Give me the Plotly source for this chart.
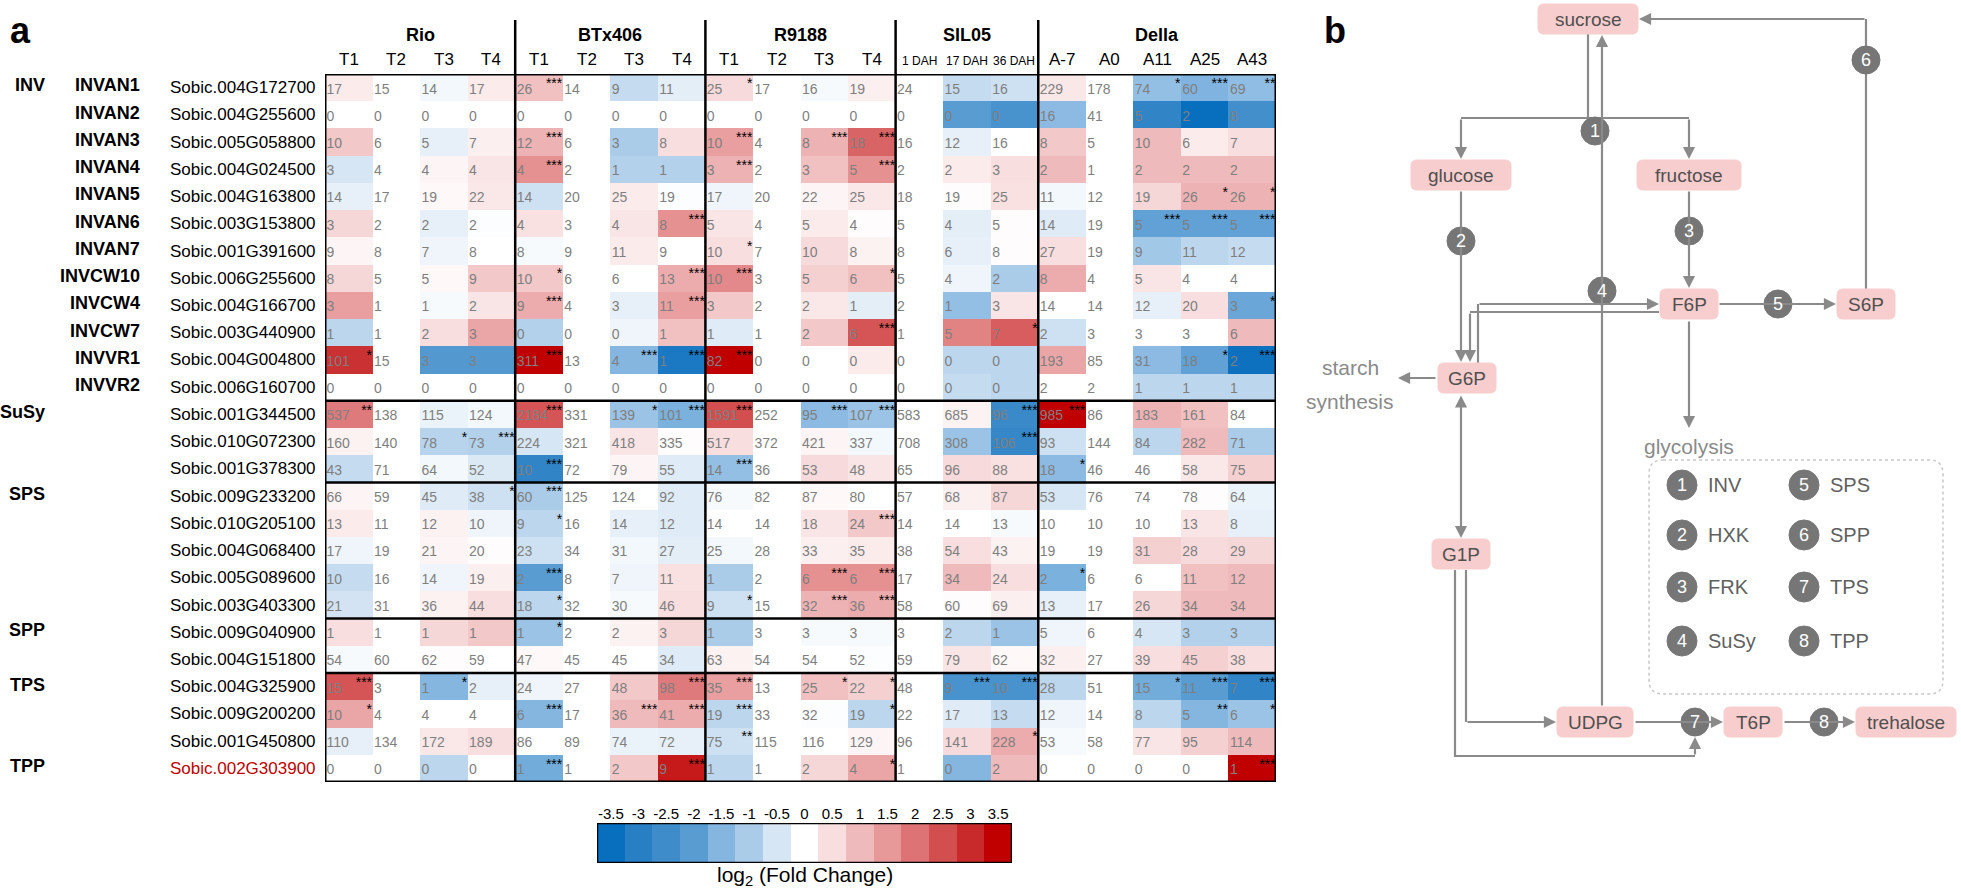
import plotly.graph_objects as go

W, H = 1961, 890

# ---------------- data ----------------
groups = ["Rio", "BTx406", "R9188", "SIL05", "Della"]
group_sizes = [4, 4, 4, 3, 5]
col_labels = ["T1", "T2", "T3", "T4", "T1", "T2", "T3", "T4", "T1", "T2", "T3", "T4",
              "1 DAH", "17 DAH", "36 DAH", "A-7", "A0", "A11", "A25", "A43"]
gene_ids = ["Sobic.004G172700", "Sobic.004G255600", "Sobic.005G058800", "Sobic.004G024500",
            "Sobic.004G163800", "Sobic.003G153800", "Sobic.001G391600", "Sobic.006G255600",
            "Sobic.004G166700", "Sobic.003G440900", "Sobic.004G004800", "Sobic.006G160700",
            "Sobic.001G344500", "Sobic.010G072300", "Sobic.001G378300", "Sobic.009G233200",
            "Sobic.010G205100", "Sobic.004G068400", "Sobic.005G089600", "Sobic.003G403300",
            "Sobic.009G040900", "Sobic.004G151800", "Sobic.004G325900", "Sobic.009G200200",
            "Sobic.001G450800", "Sobic.002G303900"]
gene_names = ["INVAN1", "INVAN2", "INVAN3", "INVAN4", "INVAN5", "INVAN6", "INVAN7",
              "INVCW10", "INVCW4", "INVCW7", "INVVR1", "INVVR2"]
family_names = ["INV", "SuSy", "SPS", "SPP", "TPS", "TPP"]
family_rows = [0, 12, 15, 20, 22, 25]
highlight_gene = "Sobic.002G303900"

values = [
    [17, 15, 14, 17, 26, 14, 9, 11, 25, 17, 16, 19, 24, 15, 16, 229, 178, 74, 60, 69],
    [0, 0, 0, 0, 0, 0, 0, 0, 0, 0, 0, 0, 0, 0, 0, 16, 41, 5, 2, 8],
    [10, 6, 5, 7, 12, 6, 3, 8, 10, 4, 8, 18, 16, 12, 16, 8, 5, 10, 6, 7],
    [3, 4, 4, 4, 4, 2, 1, 1, 3, 2, 3, 5, 2, 2, 3, 2, 1, 2, 2, 2],
    [14, 17, 19, 22, 14, 20, 25, 19, 17, 20, 22, 25, 18, 19, 25, 11, 12, 19, 26, 26],
    [3, 2, 2, 2, 4, 3, 4, 8, 5, 4, 5, 4, 5, 4, 5, 14, 19, 5, 5, 5],
    [9, 8, 7, 8, 8, 9, 11, 9, 10, 7, 10, 8, 8, 6, 8, 27, 19, 9, 11, 12],
    [8, 5, 5, 9, 10, 6, 6, 13, 10, 3, 5, 6, 5, 4, 2, 8, 4, 5, 4, 4],
    [3, 1, 1, 2, 9, 4, 3, 11, 3, 2, 2, 1, 2, 1, 3, 14, 14, 12, 20, 3],
    [1, 1, 2, 3, 0, 0, 0, 1, 1, 1, 2, 6, 1, 5, 7, 2, 3, 3, 3, 6],
    [101, 15, 3, 3, 311, 13, 4, 1, 82, 0, 0, 0, 0, 0, 0, 193, 85, 31, 18, 2],
    [0, 0, 0, 0, 0, 0, 0, 0, 0, 0, 0, 0, 0, 0, 0, 2, 2, 1, 1, 1],
    [537, 138, 115, 124, 2184, 331, 139, 101, 1591, 252, 95, 107, 583, 685, 96, 985, 86, 183, 161, 84],
    [160, 140, 78, 73, 224, 321, 418, 335, 517, 372, 421, 337, 708, 308, 106, 93, 144, 84, 282, 71],
    [43, 71, 64, 52, 10, 72, 79, 55, 14, 36, 53, 48, 65, 96, 88, 18, 46, 46, 58, 75],
    [66, 59, 45, 38, 60, 125, 124, 92, 76, 82, 87, 80, 57, 68, 87, 53, 76, 74, 78, 64],
    [13, 11, 12, 10, 9, 16, 14, 12, 14, 14, 18, 24, 14, 14, 13, 10, 10, 10, 13, 8],
    [17, 19, 21, 20, 23, 34, 31, 27, 25, 28, 33, 35, 38, 54, 43, 19, 19, 31, 28, 29],
    [10, 16, 14, 19, 2, 8, 7, 11, 1, 2, 6, 6, 17, 34, 24, 2, 6, 6, 11, 12],
    [21, 31, 36, 44, 18, 32, 30, 46, 9, 15, 32, 36, 58, 60, 69, 13, 17, 26, 34, 34],
    [1, 1, 1, 1, 1, 2, 2, 3, 1, 3, 3, 3, 3, 2, 1, 5, 6, 4, 3, 3],
    [54, 60, 62, 59, 47, 45, 45, 34, 63, 54, 54, 52, 59, 79, 62, 32, 27, 39, 45, 38],
    [15, 3, 1, 2, 24, 27, 48, 98, 35, 13, 25, 22, 48, 9, 10, 28, 51, 15, 11, 7],
    [10, 4, 4, 4, 6, 17, 36, 41, 19, 33, 32, 19, 22, 17, 13, 12, 14, 8, 5, 6],
    [110, 134, 172, 189, 86, 89, 74, 72, 75, 115, 116, 129, 96, 141, 228, 53, 58, 77, 95, 114],
    [0, 0, 0, 0, 1, 1, 2, 9, 1, 1, 2, 4, 1, 0, 2, 0, 0, 0, 0, 1],
]

log2fc = [
    [0.3, 0, -0.15, 0.3, 0.9, 0, -0.7, -0.35, 0.55, 0, -0.1, 0.25, 0, -0.7, -0.6, 0.35, 0, -1.3, -1.55, -1.35],
    [0, 0, 0, 0, 0, 0, 0, 0, 0, 0, 0, 0, 0, -2.0, -2.3, -1.4, 0, -2.8, -3.5, -2.4],
    [0.8, 0, -0.3, 0.25, 1.1, 0, -1.0, 0.5, 1.4, 0, 1.1, 2.2, 0, -0.3, 0, 0.8, 0, 1.0, 0.3, 0.5],
    [-0.5, 0, 0.15, 0.4, 1.6, 0, -0.9, -0.9, 1.1, 0, 0.9, 1.6, 0, 0.3, 0.5, 1.0, 0, 1.0, 1.0, 1.0],
    [-0.3, 0, 0.1, 0.35, -0.6, 0, 0.3, -0.05, -0.2, 0, 0.15, 0.35, 0, 0.05, 0.45, -0.15, 0, 0.6, 1.1, 1.1],
    [0.6, 0, -0.3, -0.05, 0.45, 0, 0.4, 1.6, 0.4, 0, 0.3, 0.05, 0, -0.35, 0.05, -0.4, 0, -1.9, -1.9, -1.9],
    [0.15, 0, -0.2, 0, -0.1, 0, 0.3, 0, 0.5, 0, 0.55, 0.2, 0, -0.3, 0.05, 0.5, 0, -1.1, -0.8, -0.7],
    [0.6, 0, 0.1, 0.8, 0.8, 0, 0, 1.2, 1.7, 0, 0.7, 0.9, 0, -0.2, -1.0, 1.2, 0, 0.4, 0, 0],
    [1.4, 0, -0.1, 0.4, 1.2, 0, -0.3, 1.4, 0.8, 0, 0.35, -0.35, 0, -1.3, 0.4, 0, 0, -0.3, 0.5, -1.8],
    [-0.8, 0, 0.5, 1.3, -0.9, 0, -0.2, 0.9, -0.4, 0, 0.8, 2.4, 0, 1.8, 2.3, -0.6, 0, 0, 0, 1.0],
    [2.9, 0, -2.1, -2.1, 3.5, 0, -1.5, -3.2, 3.5, 0, 0, 0.3, 0, -0.8, -0.8, 1.3, 0, -1.4, -1.9, -3.4],
    [0, 0, 0, 0, 0, 0, 0, 0, 0, 0, 0, 0, 0, -0.7, -0.8, 0, 0, -0.8, -0.8, -0.8],
    [1.9, 0, -0.25, -0.15, 2.4, 0, -1.2, -1.6, 2.5, 0, -1.4, -1.2, 0, 0.2, -2.6, 3.5, 0, 1.1, 0.9, 0],
    [0.2, 0, -0.85, -0.9, -0.5, 0, 0.4, 0.05, 0.5, 0, 0.15, -0.15, 0, -1.2, -2.7, -0.6, 0, -0.8, 1.0, -1.0],
    [-0.7, 0, -0.15, -0.45, -2.8, 0, 0.15, -0.4, -1.3, 0, 0.55, 0.4, 0, 0.55, 0.45, -1.4, 0, 0, 0.35, 0.7],
    [0.15, 0, -0.4, -0.6, -1.0, 0, 0, -0.4, -0.1, 0, 0.1, 0, 0, 0.25, 0.6, -0.5, 0, 0, 0.05, -0.25],
    [0.3, 0, 0.2, -0.2, -0.8, 0, -0.3, -0.4, 0, 0, 0.4, 0.8, 0, 0, -0.1, 0, 0, 0, 0.4, -0.3],
    [-0.2, 0, 0.15, 0.05, -0.6, 0, -0.15, -0.35, -0.15, 0, 0.25, 0.3, 0, 0.5, 0.2, 0, 0, 0.7, 0.55, 0.6],
    [-0.7, 0, -0.2, 0.25, -2.0, 0, -0.2, 0.45, -1.0, 0, 1.6, 1.6, 0, 1.0, 0.5, -1.6, 0, 0, 0.9, 1.0],
    [-0.55, 0, 0.2, 0.5, -0.8, 0, -0.1, 0.5, -0.6, 0, 1.1, 1.2, 0, 0.05, 0.25, -0.3, 0, 0.6, 1.0, 1.0],
    [0.5, 0, 0.6, 0.8, -1.2, 0, 0.2, 0.6, -1.0, 0, -0.1, -0.1, 0, -0.8, -1.2, -0.2, 0, -0.5, -0.9, -0.9],
    [-0.1, 0, 0.05, 0, 0.1, 0, 0, -0.4, 0.2, 0, 0, -0.05, 0, 0.4, 0.1, 0.25, 0, 0.5, 0.7, 0.5],
    [2.4, 0, -1.5, -0.3, -0.2, 0, 0.8, 1.9, 1.4, 0, 0.9, 0.7, 0, -2.3, -2.3, -0.8, 0, -1.7, -2.0, -2.8],
    [1.3, 0, 0, 0, -1.5, 0, 1.0, 1.2, -0.8, 0, -0.05, -0.8, 0, -0.4, -0.7, -0.2, 0, -0.8, -1.5, -1.2],
    [-0.3, 0, 0.35, 0.5, 0, 0, -0.25, -0.3, -0.6, 0, 0, 0.15, 0, 0.55, 1.2, -0.1, 0, 0.4, 0.7, 1.0],
    [0, 0, -0.8, 0, -1.7, 0, 0.8, 3.2, -0.8, 0, 0.6, 1.3, 0, -1.5, 1.0, 0, 0, 0, 0, 3.5],
]

# (row, column, significance)
stars = [
    (0, 4, "***"), (0, 8, "*"), (0, 17, "*"), (0, 18, "***"), (0, 19, "**"),
    (2, 4, "***"), (2, 8, "***"), (2, 10, "***"), (2, 11, "***"),
    (3, 4, "***"), (3, 8, "***"), (3, 11, "***"),
    (4, 18, "*"), (4, 19, "*"),
    (5, 7, "***"), (5, 17, "***"), (5, 18, "***"), (5, 19, "***"),
    (6, 8, "*"),
    (7, 4, "*"), (7, 7, "***"), (7, 8, "***"), (7, 11, "*"),
    (8, 4, "***"), (8, 7, "***"), (8, 19, "*"),
    (9, 11, "***"), (9, 14, "*"),
    (10, 0, "*"), (10, 4, "***"), (10, 6, "***"), (10, 7, "***"), (10, 8, "***"), (10, 18, "*"), (10, 19, "***"),
    (12, 0, "**"), (12, 4, "***"), (12, 6, "*"), (12, 7, "***"), (12, 8, "***"), (12, 10, "***"),
    (12, 11, "***"), (12, 14, "***"), (12, 15, "***"),
    (13, 2, "*"), (13, 3, "***"), (13, 14, "***"),
    (14, 4, "***"), (14, 8, "***"), (14, 15, "*"),
    (15, 3, "*"), (15, 4, "***"),
    (16, 4, "*"), (16, 11, "***"),
    (18, 4, "***"), (18, 10, "***"), (18, 11, "***"), (18, 15, "*"),
    (19, 4, "*"), (19, 8, "*"), (19, 10, "***"), (19, 11, "***"),
    (20, 4, "*"),
    (22, 0, "***"), (22, 2, "*"), (22, 7, "***"), (22, 8, "***"), (22, 10, "*"), (22, 11, "*"),
    (22, 13, "***"), (22, 14, "***"), (22, 17, "*"), (22, 18, "***"), (22, 19, "***"),
    (23, 0, "*"), (23, 4, "***"), (23, 6, "***"), (23, 7, "***"), (23, 8, "***"), (23, 11, "*"),
    (23, 18, "**"), (23, 19, "*"),
    (24, 8, "**"), (24, 14, "*"),
    (25, 4, "***"), (25, 7, "***"), (25, 11, "*"), (25, 19, "***"),
]
row_group_breaks = [11.5, 14.5, 19.5, 21.5]

cbar_levels = [-3.5, -3, -2.5, -2, -1.5, -1, -0.5, 0, 0.5, 1, 1.5, 2, 2.5, 3, 3.5]
cbar_colors = ["#086EBE", "#287FC4", "#3E8CCA", "#589CD2", "#84B6E0", "#AACCE9", "#D7E6F4", "#FFFFFF",
               "#F8DEDE", "#EFBABB", "#E79899", "#DD7375", "#D34E4F", "#C82A2B", "#C00000"]
legend_enzymes = ["INV", "HXK", "FRK", "SuSy", "SPS", "SPP", "TPS", "TPP"]

# ---------------- geometry ----------------
HX0, HX1, HY0, HY1 = 325, 1276, 74, 782
NR, NC = len(values), len(col_labels)
FONT = "Liberation Sans, Arial, sans-serif"
GRAY_TXT = "#7F7F7F"

zmin, zmax = cbar_levels[0], cbar_levels[-1]
colorscale = [[(v - zmin) / (zmax - zmin), c] for v, c in zip(cbar_levels, cbar_colors)]

fig = go.Figure()

fig.add_trace(go.Heatmap(z=log2fc, x=list(range(NC)), y=list(range(NR)), colorscale=colorscale,
                         zmin=zmin, zmax=zmax, showscale=False, hoverinfo="skip",
                         xaxis="x", yaxis="y"))

tx, ty, tt = [], [], []
for r in range(NR):
    for c in range(NC):
        tx.append(c - 0.47)
        ty.append(r + 0.09)
        tt.append(str(values[r][c]))
fig.add_trace(go.Scatter(x=tx, y=ty, text=tt, mode="text", textposition="middle right",
                         textfont=dict(family=FONT, size=14, color=GRAY_TXT),
                         hoverinfo="skip", cliponaxis=False, xaxis="x", yaxis="y"))
fig.add_trace(go.Scatter(x=[c + 0.49 for r, c, s in stars], y=[r - 0.12 for r, c, s in stars],
                         text=[s for r, c, s in stars], mode="text", textposition="middle left",
                         textfont=dict(family=FONT, size=14, color="black"),
                         hoverinfo="skip", cliponaxis=False, xaxis="x", yaxis="y"))

# colorbar as heatmap
fig.add_trace(go.Heatmap(z=[cbar_levels], x=list(range(len(cbar_levels))), y=[0],
                         colorscale=colorscale, zmin=zmin, zmax=zmax, showscale=False,
                         hoverinfo="skip", xaxis="x3", yaxis="y3"))
# pixel overlay axis
fig.add_trace(go.Scatter(x=[0], y=[0], mode="markers", marker=dict(opacity=0), hoverinfo="skip",
                         xaxis="x2", yaxis="y2"))

CB = (597, 1012, 823, 863)
ax_off = dict(visible=False, showgrid=False, zeroline=False)
fig.update_layout(
    width=W, height=H, margin=dict(l=0, r=0, t=0, b=0), autosize=False,
    paper_bgcolor="white", plot_bgcolor="rgba(0,0,0,0)", showlegend=False,
    xaxis=dict(domain=[HX0 / W, HX1 / W], range=[-0.5, NC - 0.5], **ax_off),
    yaxis=dict(domain=[1 - HY1 / H, 1 - HY0 / H], range=[NR - 0.5, -0.5], **ax_off),
    xaxis2=dict(domain=[0, 1], range=[0, W], anchor="y2", **ax_off),
    yaxis2=dict(domain=[0, 1], range=[H, 0], anchor="x2", **ax_off),
    xaxis3=dict(domain=[CB[0] / W, CB[1] / W], range=[-0.5, 14.5], anchor="y3", side="top",
                tickvals=list(range(15)), ticktext=[f"{v:g}" for v in cbar_levels],
                showgrid=False, zeroline=False, ticks="", showline=False,
                tickfont=dict(family=FONT, size=15, color="black")),
    yaxis3=dict(domain=[1 - CB[3] / H, 1 - CB[2] / H], range=[-0.5, 0.5], anchor="x3", **ax_off),
)

shapes, ann = [], []
# heatmap frame and separators
ann_line = dict(color="black", width=2.5)
shapes.append(dict(type="rect", xref="x", yref="y", x0=-0.5, x1=NC - 0.5, y0=-0.5, y1=NR - 0.5,
                   line=dict(color="black", width=3)))
for yb in row_group_breaks:
    shapes.append(dict(type="line", xref="x", yref="y", x0=-0.5, x1=NC - 0.5, y0=yb, y1=yb, line=ann_line))
start = 0
for gi, (g, n) in enumerate(zip(groups, group_sizes)):
    if gi > 0:
        shapes.append(dict(type="line", xref="x", yref="y2", x0=start - 0.5, x1=start - 0.5,
                           y0=20, y1=HY1, line=ann_line))
    ann.append(dict(xref="x", yref="y2", x=start + (n - 1) / 2, y=35, text=f"<b>{g}</b>",
                    showarrow=False, font=dict(family=FONT, size=18, color="black")))
    start += n
for c, lab in enumerate(col_labels):
    small = "DAH" in lab
    ann.append(dict(xref="x", yref="y2", x=c, y=59 if not small else 61, text=lab, showarrow=False,
                    font=dict(family=FONT, size=12 if small else 17, color="black")))
# row labels
for r, gid in enumerate(gene_ids):
    col = "#C00000" if gid == highlight_gene else "black"
    ann.append(dict(xref="x2", yref="y", x=318, y=r, text=gid, showarrow=False, xanchor="right",
                    font=dict(family=FONT, size=17, color=col)))
for r, gn in enumerate(gene_names):
    ann.append(dict(xref="x2", yref="y", x=142, y=r - 0.08, text=f"<b>{gn}</b>", showarrow=False,
                    xanchor="right", font=dict(family=FONT, size=18, color="black")))
for fn, fr in zip(family_names, family_rows):
    ann.append(dict(xref="x2", yref="y", x=47, y=fr - 0.08, text=f"<b>{fn}</b>", showarrow=False,
                    xanchor="right", font=dict(family=FONT, size=18, color="black")))
# colorbar frame & title
shapes.append(dict(type="rect", xref="x3", yref="y3", x0=-0.5, x1=14.5, y0=-0.5, y1=0.5,
                   line=dict(color="black", width=2.5)))
ann.append(dict(xref="x2", yref="y2", x=(CB[0] + CB[1]) / 2, y=876, text="log<sub>2</sub> (Fold Change)",
                showarrow=False, font=dict(family=FONT, size=21, color="black")))
# panel letters
ann.append(dict(xref="x2", yref="y2", x=8, y=30, text="<b>a</b>", showarrow=False, xanchor="left",
                font=dict(family=FONT, size=36, color="black")))
ann.append(dict(xref="x2", yref="y2", x=1322, y=30, text="<b>b</b>", showarrow=False, xanchor="left",
                font=dict(family=FONT, size=36, color="black")))

# ---------------- panel b: pathway ----------------
LC = "#8A8A8A"
LW = 2.2
PINK = "#F8CDCD"
NODE_TXT = "#505050"


def rrect(cx, cy, w, h, r=6):
    x0, x1, y0, y1 = cx - w / 2, cx + w / 2, cy - h / 2, cy + h / 2
    return (f"M{x0 + r},{y0} L{x1 - r},{y0} Q{x1},{y0} {x1},{y0 + r} L{x1},{y1 - r} "
            f"Q{x1},{y1} {x1 - r},{y1} L{x0 + r},{y1} Q{x0},{y1} {x0},{y1 - r} "
            f"L{x0},{y0 + r} Q{x0},{y0} {x0 + r},{y0} Z")


nodes = {
    "sucrose": (1588, 19, 100, 30), "glucose": (1461, 175, 100, 30), "fructose": (1689, 175, 104, 30),
    "F6P": (1689, 304, 58, 30), "S6P": (1866, 304, 58, 30), "G6P": (1467, 378, 58, 30),
    "G1P": (1461, 554, 58, 30), "UDPG": (1595, 722, 76, 30), "T6P": (1753, 722, 58, 30),
    "trehalose": (1906, 722, 100, 30),
}


def line(pts):
    d = "M" + " L".join(f"{x},{y}" for x, y in pts)
    shapes.append(dict(type="path", xref="x2", yref="y2", path=d, line=dict(color=LC, width=LW)))


def arrow(x0, y0, x1, y1, both=False):
    ann.append(dict(xref="x2", yref="y2", axref="x2", ayref="y2", x=x1, y=y1, ax=x0, ay=y0, text="",
                    showarrow=True, arrowhead=2, arrowsize=1.1, arrowwidth=LW, arrowcolor=LC,
                    arrowside="end+start" if both else "end", startarrowhead=2, startarrowsize=1.1))


# INV
line([(1588, 34), (1588, 118)])
line([(1461, 118), (1689, 118)])
arrow(1461, 118, 1461, 159)
arrow(1689, 118, 1689, 159)
# SuSy: UDPG -> sucrose
arrow(1602, 707, 1602, 35)
# HXK, FRK
arrow(1461, 190, 1461, 362)
arrow(1689, 190, 1689, 288)
# SPS, SPP
arrow(1718, 304, 1836, 304)
line([(1866, 289), (1866, 19)])
arrow(1866, 19, 1639, 19)
# G6P <-> F6P
line([(1478, 363), (1478, 304)])
arrow(1478, 304, 1659, 304)
line([(1659, 312), (1470, 312)])
arrow(1470, 312, 1470, 362)
# G6P <-> G1P
arrow(1461, 394, 1461, 538, both=True)
# starch, glycolysis
arrow(1437, 378, 1398, 378)
arrow(1689, 320, 1689, 428)
# G1P -> UDPG, -> TPS
line([(1466, 570), (1466, 722)])
arrow(1466, 722, 1556, 722)
line([(1455, 570), (1455, 756), (1695, 756)])
arrow(1695, 756, 1695, 737)
# UDPG -> T6P -> trehalose
arrow(1634, 722, 1723, 722)
arrow(1783, 722, 1855, 722)

for name, (cx, cy, w, h) in nodes.items():
    shapes.append(dict(type="path", xref="x2", yref="y2", path=rrect(cx, cy, w, h),
                       fillcolor=PINK, line=dict(color=PINK, width=1), layer="above"))
    ann.append(dict(xref="x2", yref="y2", x=cx, y=cy, text=name, showarrow=False,
                    font=dict(family=FONT, size=19, color=NODE_TXT)))

circles = [(1, 1595, 131), (2, 1461, 241), (3, 1689, 231), (4, 1602, 291), (5, 1778, 304),
           (6, 1866, 60), (7, 1695, 722), (8, 1824, 722)]


def circ(num, cx, cy, r=14):
    shapes.append(dict(type="circle", xref="x2", yref="y2", x0=cx - r, x1=cx + r, y0=cy - r, y1=cy + r,
                       fillcolor="#767676", line=dict(color="#767676", width=1), layer="above"))
    ann.append(dict(xref="x2", yref="y2", x=cx, y=cy, text=str(num), showarrow=False,
                    font=dict(family=FONT, size=18, color="white")))


for num, cx, cy in circles:
    circ(num, cx, cy)

ann.append(dict(xref="x2", yref="y2", x=1350, y=367, text="starch", showarrow=False,
                font=dict(family=FONT, size=21, color=LC)))
ann.append(dict(xref="x2", yref="y2", x=1350, y=401, text="synthesis", showarrow=False,
                font=dict(family=FONT, size=21, color=LC)))
ann.append(dict(xref="x2", yref="y2", x=1689, y=446, text="glycolysis", showarrow=False,
                font=dict(family=FONT, size=21, color=LC)))

# legend box
shapes.append(dict(type="path", xref="x2", yref="y2", path=rrect(1796, 577, 294, 234, 14),
                   line=dict(color="#C8C8C8", width=1.5, dash="dot")))
leg_y = [485, 535, 587, 641]
for i, name in enumerate(legend_enzymes):
    colx = 1682 if i < 4 else 1804
    cy = leg_y[i % 4]
    circ(i + 1, colx, cy, r=15)
    ann.append(dict(xref="x2", yref="y2", x=colx + 24, y=cy, text=name, showarrow=False, xanchor="left",
                    font=dict(family=FONT, size=20, color="#606060")))

fig.update_layout(shapes=shapes, annotations=ann)
fig.write_html("out.html", post_script="document.body.style.margin='0';",
               config={"displayModeBar": False, "displaylogo": False})
